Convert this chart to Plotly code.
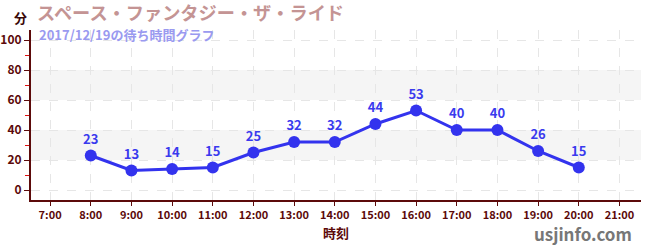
import plotly.graph_objects as go

hours = [8, 9, 10, 11, 12, 13, 14, 15, 16, 17, 18, 19, 20]
waits = [23, 13, 14, 15, 25, 32, 32, 44, 53, 40, 40, 26, 15]
tick_hours = list(range(7, 22))
tick_labels = [f"{h}:00" for h in tick_hours]
y_ticks = [0, 20, 40, 60, 80, 100]
bands = [(20, 40), (60, 80)]

title_text = "スペース・ファンタジー・ザ・ライド"
subtitle_text = "2017/12/19の待ち時間グラフ"

axis_col = "#5c0a0a"
font_fam = "Noto Sans CJK JP, Noto Sans, sans-serif"

fig = go.Figure()
fig.add_trace(go.Scatter(
    x=hours, y=waits, mode="lines+markers+text",
    text=[str(v) for v in waits], textposition="top center",
    textfont=dict(color="#3a3aee", size=13, family=font_fam, weight="bold"),
    line=dict(color="#3333ee", width=3),
    marker=dict(color="#3333ee", size=12),
    cliponaxis=False, hoverinfo="skip",
))

for lo, hi in bands:
    fig.add_hrect(y0=lo, y1=hi, fillcolor="#f5f5f5", line_width=0, layer="below")

fig.update_layout(
    width=650, height=250,
    margin=dict(l=31, r=9, t=30, b=50),
    plot_bgcolor="white", paper_bgcolor="white",
    showlegend=False,
    font=dict(family=font_fam, color=axis_col, size=12),
    xaxis=dict(
        range=[6.53, 21.53], tickmode="array", tickvals=tick_hours, ticktext=tick_labels,
        showline=True, linecolor=axis_col, linewidth=2,
        ticks="outside", ticklen=4, tickcolor=axis_col,
        showgrid=True, gridcolor="#e6e6e6", griddash="dash", gridwidth=1,
        tickfont=dict(size=11, color=axis_col, family=font_fam, weight="bold"),
        zeroline=False, fixedrange=True, automargin=False,
        title=dict(text="時刻", font=dict(size=13, color=axis_col, family=font_fam, weight="bold"), standoff=8),
    ),
    yaxis=dict(
        range=[-6.67, 106.67], tickmode="array", tickvals=y_ticks,
        showline=True, linecolor=axis_col, linewidth=2,
        ticks="outside", ticklen=5, tickcolor=axis_col,
        showgrid=True, gridcolor="#e6e6e6", griddash="dash", gridwidth=1,
        tickfont=dict(size=12, color=axis_col, family=font_fam, weight="bold"),
        zeroline=False, fixedrange=True, automargin=False,
        minor=dict(tickvals=[10, 30, 50, 70, 90], ticks="outside", ticklen=4,
                   tickcolor="#dd1111", showgrid=False),
    ),
)

fig.add_annotation(text=title_text, xref="paper", yref="paper", x=0, xanchor="left",
                   xshift=4, y=1, yshift=18, yanchor="middle", showarrow=False,
                   font=dict(size=18.2, color="#c49494", family=font_fam, weight="bold"))
fig.add_annotation(text=subtitle_text, xref="paper", yref="paper", x=0, xanchor="left",
                   xshift=6, y=1, yshift=-4.5, yanchor="middle", showarrow=False,
                   font=dict(size=13, color="#9a9af0", family=font_fam, weight="bold"))
fig.add_annotation(text="分", xref="paper", yref="paper", x=0, xanchor="center",
                   xshift=-11, y=1, yshift=13, yanchor="middle", showarrow=False,
                   font=dict(size=13, color="#3a0808", family=font_fam, weight="bold"))
fig.add_annotation(text="usjinfo.com", xref="paper", yref="paper", x=1, xanchor="right",
                   xshift=-7, y=0, yshift=-33, yanchor="middle", showarrow=False,
                   font=dict(size=17, color="#777777", family=font_fam, weight="bold"))

fig.write_html("out.html")
